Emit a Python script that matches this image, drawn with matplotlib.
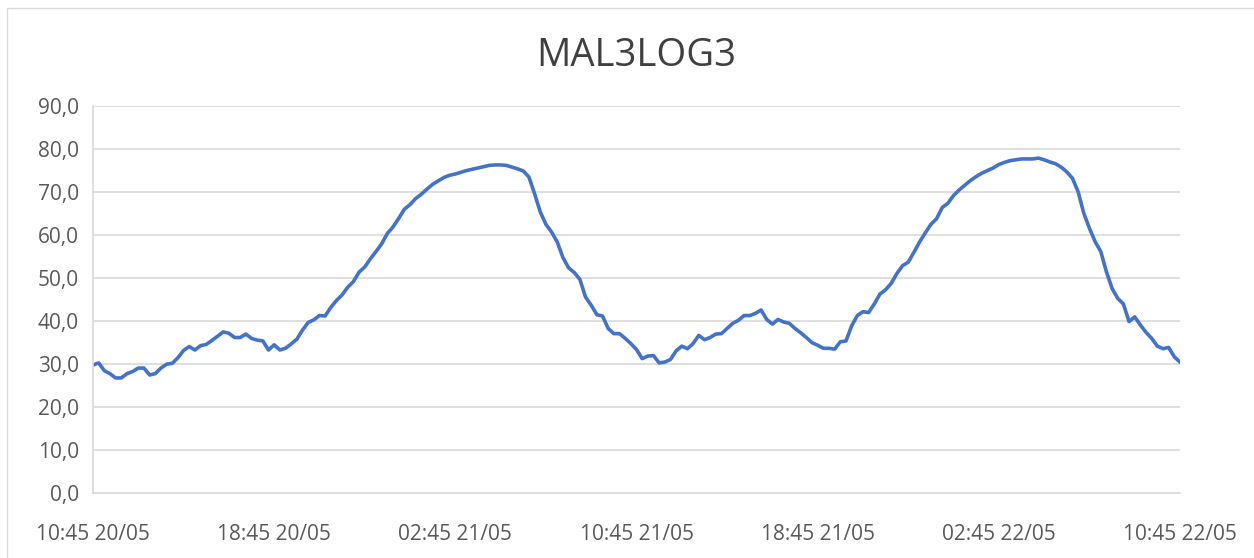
import matplotlib
matplotlib.use("Agg")
import matplotlib.pyplot as plt
from matplotlib.patches import Rectangle
import pandas as pd

title = "MAL3LOG3"

# 15-minute readings from 10:45 20/05 to 10:45 22/05
times = pd.date_range("2023-05-20 10:45", "2023-05-22 10:45", freq="15min")

values = [
    29.8, 30.3, 28.5, 27.8, 26.8, 26.8, 27.8, 28.3, 29.1, 29.1,
    27.5, 27.8, 29.1, 30.0, 30.2, 31.5, 33.2, 34.1, 33.3, 34.3,
    34.6, 35.5, 36.5, 37.5, 37.2, 36.2, 36.2, 37.0, 36.0, 35.6,
    35.4, 33.3, 34.5, 33.3, 33.7, 34.7, 35.8, 37.9, 39.7, 40.3,
    41.3, 41.2, 43.2, 44.8, 46.1, 47.9, 49.2, 51.4, 52.6, 54.5,
    56.2, 58.0, 60.4, 61.9, 63.9, 66.0, 67.1, 68.5, 69.5, 70.7,
    71.8, 72.6, 73.4, 73.9, 74.2, 74.6, 75.0, 75.3, 75.6, 75.9,
    76.2, 76.3, 76.3, 76.2, 75.8, 75.4, 74.9, 73.5, 69.6, 65.4,
    62.5, 60.7, 58.4, 54.8, 52.4, 51.3, 49.7, 45.6, 43.7, 41.5,
    41.2, 38.3, 37.1, 37.1, 36.0, 34.8, 33.4, 31.3, 31.9, 32.0,
    30.3, 30.5, 31.1, 33.1, 34.2, 33.6, 34.8, 36.7, 35.7, 36.2,
    37.0, 37.1, 38.3, 39.5, 40.2, 41.3, 41.3, 41.8, 42.6, 40.4,
    39.3, 40.4, 39.8, 39.5, 38.3, 37.3, 36.2, 35.0, 34.4, 33.7,
    33.7, 33.5, 35.2, 35.4, 38.9, 41.3, 42.2, 42.0, 44.0, 46.3,
    47.3, 48.8, 51.1, 52.9, 53.7, 56.0, 58.4, 60.5, 62.5, 63.8,
    66.4, 67.4, 69.2, 70.5, 71.6, 72.7, 73.6, 74.4, 75.0, 75.6,
    76.4, 76.9, 77.3, 77.5, 77.7, 77.7, 77.7, 77.9, 77.5, 77.0,
    76.6, 75.8, 74.7, 73.2, 70.1, 65.1, 61.6, 58.5, 56.2, 51.5,
    47.6, 45.3, 44.0, 39.9, 41.0, 39.1, 37.4, 36.0, 34.2, 33.6,
    33.9, 31.7, 30.5,
]

y_ticks = [0, 10, 20, 30, 40, 50, 60, 70, 80, 90]
tick_step = 32  # one label every 8 hours

labels = [t.strftime("%H:%M %d/%m") for t in times]
positions = list(range(len(values)))

plt.rcParams["font.family"] = ["Open Sans", "DejaVu Sans"]
text_color = "#595959"
grid_color = "#d9d9d9"

fig = plt.figure(figsize=(12.54, 5.58), dpi=100)
fig.patches.append(Rectangle((7 / 1254, -0.1), 1.2, 1 - 8 / 558 + 0.1,
                             transform=fig.transFigure, fill=False,
                             edgecolor=grid_color, linewidth=1.0))

ax = fig.add_axes([93 / 1254, 1 - 493.3 / 558, (1180 - 93) / 1254, (493.3 - 106) / 558])
ax.plot(positions, values, color="#4472C4", linewidth=2.6, solid_joinstyle="round")

ax.set_xlim(0, len(values) - 1)
ax.set_ylim(0, 90)
ax.set_yticks(y_ticks)
ax.set_yticklabels([f"{v:.1f}".replace(".", ",") for v in y_ticks])
xt = positions[::tick_step]
ax.set_xticks(xt)
ax.set_xticklabels([labels[i] for i in xt])

ax.grid(axis="y", color=grid_color, linewidth=1.2)
ax.set_axisbelow(True)
for s in ["top", "right"]:
    ax.spines[s].set_visible(False)
for s in ["left", "bottom"]:
    ax.spines[s].set_color(grid_color)
    ax.spines[s].set_linewidth(1.2)
ax.tick_params(axis="both", length=0, labelsize=15, colors=text_color)
ax.tick_params(axis="x", pad=22)
ax.tick_params(axis="y", pad=10)

fig.text(636 / 1254, 1 - 56 / 558, title, ha="center", va="center",
         fontsize=27.5, color="#404040")

fig.savefig("out.png", dpi=100)
